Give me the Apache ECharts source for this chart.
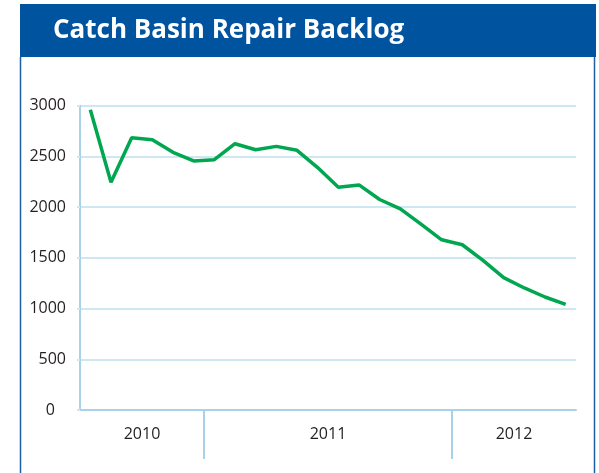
<!DOCTYPE html>
<html>
<head>
<meta charset="utf-8">
<script src="https://cdn.jsdelivr.net/npm/echarts@6/dist/echarts.min.js"></script>
<style>html,body{margin:0;padding:0;background:#fff;}#c{width:599px;height:473px;}</style>
</head>
<body>
<div id="c"></div>
<script>
var titleText = 'Catch Basin Repair Backlog';
var months = ['Jul 2010','Aug 2010','Sep 2010','Oct 2010','Nov 2010','Dec 2010',
  'Jan 2011','Feb 2011','Mar 2011','Apr 2011','May 2011','Jun 2011','Jul 2011','Aug 2011','Sep 2011','Oct 2011','Nov 2011','Dec 2011',
  'Jan 2012','Feb 2012','Mar 2012','Apr 2012','May 2012','Jun 2012'];
var backlog = [2960, 2245, 2685, 2665, 2540, 2455, 2468, 2625, 2566, 2599, 2560, 2390,
  2196, 2219, 2075, 1983, 1832, 1678, 1629, 1475, 1305, 1203, 1114, 1042];
var years = ['2010', '2011', '2012'];
var monthsPerYear = [6, 12, 6];
var yTicks = [0, 500, 1000, 1500, 2000, 2500, 3000];

// year boundaries and label centres (in month units)
var boundaries = [], centres = [], acc = 0;
monthsPerYear.forEach(function (n, i) {
  centres.push(acc + n / 2);
  acc += n;
  if (i < monthsPerYear.length - 1) boundaries.push(acc);
});

var axisBlue = '#a9d2e8';
var gridBlue = '#cfe6f3';
var chart = echarts.init(document.getElementById('c'), null, {renderer: 'canvas'});
chart.setOption({
  animation: false,
  backgroundColor: '#fff',
  graphic: [
    {type: 'rect', shape: {x: 20, y: 4, width: 576, height: 53}, style: {fill: '#00539f'}, z: 10},
    {type: 'line', shape: {x1: 20.5, y1: 57, x2: 20.5, y2: 473}, style: {stroke: '#1d5fa6', lineWidth: 1.5}, z: 10},
    {type: 'line', shape: {x1: 594.5, y1: 57, x2: 594.5, y2: 473}, style: {stroke: '#1d5fa6', lineWidth: 1.5}, z: 10},
    {type: 'text', x: 53, y: 31, style: {text: titleText, fill: '#fff', font: 'bold 26px "Open Sans"', textVerticalAlign: 'middle'}, z: 11}
  ],
  grid: {left: 80, right: 23, top: 105.7, bottom: 63, containLabel: false},
  xAxis: [
    {
      type: 'category', data: months, boundaryGap: true,
      axisLine: {lineStyle: {color: axisBlue, width: 2}},
      axisTick: {interval: 0, length: 3, lineStyle: {color: axisBlue, width: 1.5}},
      axisLabel: {show: false}
    },
    {
      type: 'value', min: 0, max: months.length, position: 'bottom',
      axisLine: {show: false},
      splitLine: {show: false},
      axisTick: {show: true, customValues: boundaries, length: 49, lineStyle: {color: axisBlue, width: 2}},
      axisLabel: {
        customValues: centres, margin: 16, color: '#231f20', fontSize: 16, fontFamily: 'Open Sans',
        formatter: function (v) { var i = centres.indexOf(v); return i >= 0 ? years[i] : ''; }
      }
    }
  ],
  yAxis: {
    type: 'value', min: yTicks[0], max: yTicks[yTicks.length - 1], interval: yTicks[1] - yTicks[0],
    axisLine: {show: true, lineStyle: {color: axisBlue, width: 2}},
    axisTick: {show: true, length: 3, lineStyle: {color: gridBlue, width: 2}},
    splitLine: {lineStyle: {color: gridBlue, width: 2}},
    axisLabel: {
      margin: 14, color: '#231f20', fontSize: 16, fontFamily: 'Open Sans',
      formatter: function (v) { return v === 0 ? '{z|0}' : String(v); },
      rich: {z: {fontSize: 16, fontFamily: 'Open Sans', color: '#231f20', padding: [0, 11, 0, 0]}}
    }
  },
  series: [{
    type: 'line', data: backlog, xAxisIndex: 0, yAxisIndex: 0,
    symbol: 'none', lineStyle: {color: '#00a650', width: 3.5}, z: 5
  }]
});
</script>
</body>
</html>
